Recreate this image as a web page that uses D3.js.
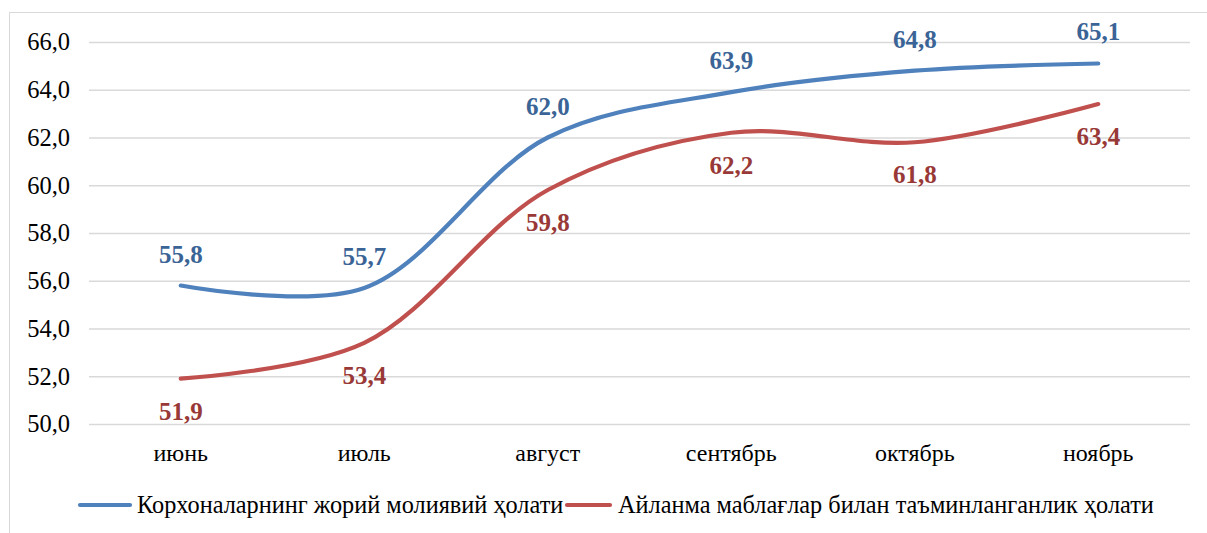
<!DOCTYPE html>
<html><head><meta charset="utf-8">
<script src="https://cdn.jsdelivr.net/npm/d3@7"></script>
<style>body{margin:0;background:#fff}svg{display:block}</style>
</head><body>
<svg id="c" width="1207" height="533"></svg>
<script>
const categories = ["июнь","июль","август","сентябрь","октябрь","ноябрь"];
const seriesNames = ["Корхоналарнинг жорий молиявий ҳолати","Айланма маблағлар билан таъминланганлик ҳолати"];
const series1 = [55.8,55.7,62.0,63.9,64.8,65.1];
const series2 = [51.9,53.4,59.8,62.2,61.8,63.4];
const yTicks = [50,52,54,56,58,60,62,64,66];

(function(){
const svg = d3.select("#c");
const W=1207,H=533;
const pL=89,pR=1190,pT=42,pB=424;
const x = d3.scaleBand().domain(categories).range([pL,pR]);
const y = d3.scaleLinear().domain([50,66]).range([pB,pT]);
const fmt = v => v.toFixed(1).replace(".",",");
const FF = '"Liberation Serif"';

svg.append("rect").attr("x",9.5).attr("y",12.5).attr("width",W).attr("height",H)
  .attr("fill","#fff").attr("stroke","#d9d9d9").attr("stroke-width",1);

const yAxis = d3.axisLeft(y).tickValues(yTicks).tickSize(-(pR-pL)).tickFormat(fmt).tickPadding(19);
const gy = svg.append("g").attr("transform",`translate(${pL},0)`).call(yAxis);
gy.select(".domain").remove();
gy.selectAll(".tick line").attr("stroke","#d9d9d9").attr("stroke-width",1.3);
gy.selectAll(".tick text").style("font-family",FF).style("font-size","24.5px").attr("fill","#000");

const xAxis = d3.axisBottom(x).tickSize(0).tickPadding(20);
const gx = svg.append("g").attr("transform",`translate(0,${pB})`).call(xAxis);
gx.select(".domain").remove();
gx.selectAll(".tick text").style("font-family",FF).style("font-size","24px").attr("fill","#000");

const cx = c => x(c)+x.bandwidth()/2;
const line = d3.line().x((d,i)=>cx(categories[i])).y(d=>y(d)).curve(d3.curveCatmullRom.alpha(0.5));

const defs=[{data:series1,color:"#4F81BD",lab:"#3B6496",dy:-23},{data:series2,color:"#C0504D",lab:"#983937",dy:41}];
defs.forEach(s=>{
  svg.append("path").datum(s.data).attr("d",line).attr("fill","none")
    .attr("stroke",s.color).attr("stroke-width",4.2).attr("stroke-linecap","round");
});
defs.forEach(s=>{
  svg.selectAll(null).data(s.data).enter().append("text")
    .attr("x",(d,i)=>cx(categories[i])).attr("y",d=>y(d)+s.dy)
    .attr("text-anchor","middle")
    .style("font-family",FF).style("font-weight","bold").style("font-size","25px")
    .attr("fill",s.lab).text(fmt);
});

const leg=[{x1:80,x2:130,tx:137,color:"#4F81BD",name:seriesNames[0]},{x1:567,x2:610,tx:618,color:"#C0504D",name:seriesNames[1]}];
leg.forEach(l=>{
  svg.append("line").attr("x1",l.x1).attr("x2",l.x2).attr("y1",505).attr("y2",505)
    .attr("stroke",l.color).attr("stroke-width",4.2).attr("stroke-linecap","round");
  svg.append("text").attr("x",l.tx).attr("y",513)
    .style("font-family",FF).style("font-size","24.3px")
    .attr("fill","#000").text(l.name);
});
})();
</script>
</body></html>
